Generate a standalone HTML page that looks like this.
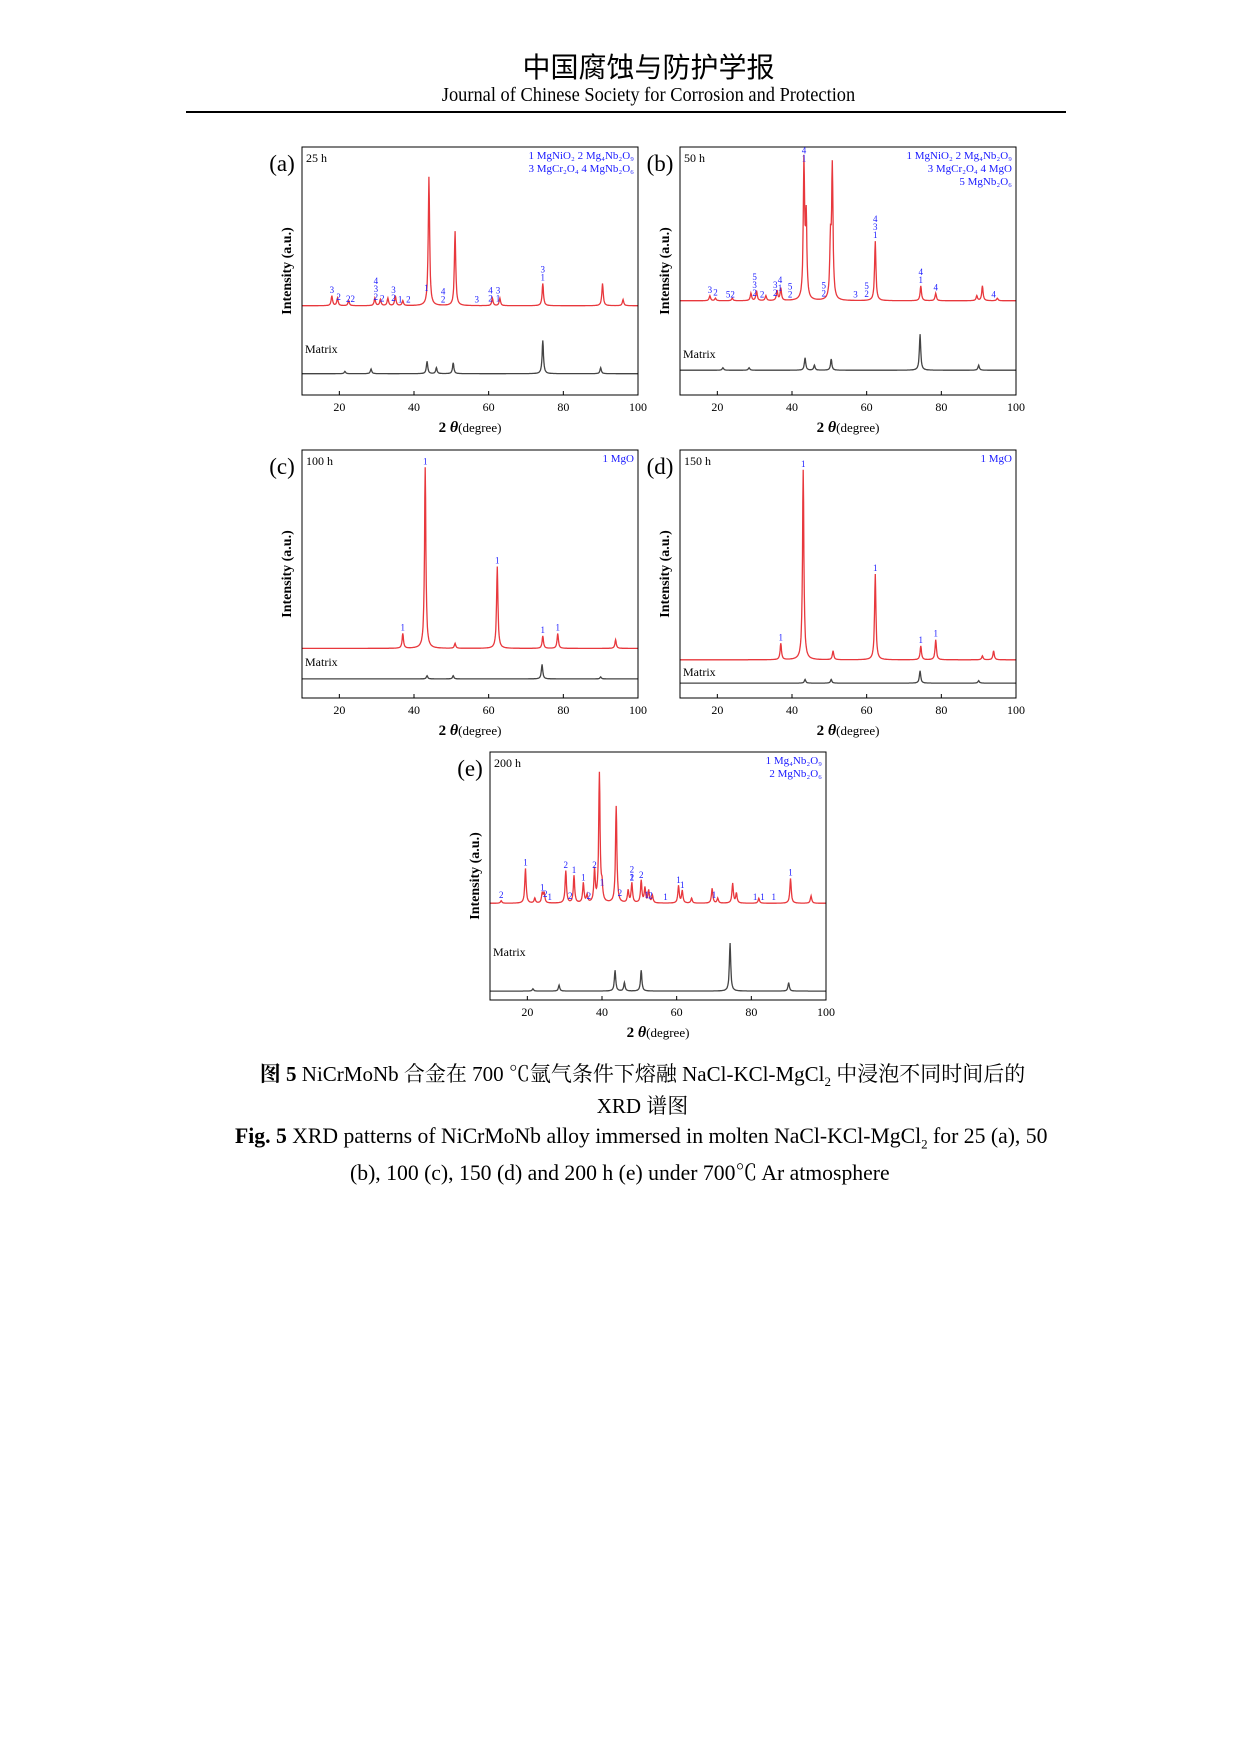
<!DOCTYPE html>
<html><head><meta charset="utf-8">
<style>
body{margin:0;background:#fff;width:1241px;height:1754px;position:relative;font-family:"Liberation Serif","Noto Serif CJK SC",serif;overflow:hidden}
.t{position:absolute;white-space:nowrap;color:#000}
</style></head><body>
<div class="t" style="left:0;width:1241px;text-align:center;top:46px;font-size:28px;font-family:'Noto Sans CJK SC',sans-serif;transform:translateX(28px)">中国腐蚀与防护学报</div>
<div class="t" style="left:0;width:1241px;text-align:center;top:84px;font-size:20px;transform:translateX(28px) scaleX(0.92)">Journal of Chinese Society for Corrosion and Protection</div>
<div style="position:absolute;left:186px;top:111px;width:880px;height:2px;background:#000"></div>
<svg id="fig" width="1241" height="1060" style="position:absolute;left:0;top:0" font-family="Liberation Serif, serif"></svg>
<div class="t" style="left:0;width:1241px;text-align:center;top:1058px;font-size:21px;transform:translateX(22px)"><b>图 5</b> NiCrMoNb 合金在 700 ℃氩气条件下熔融 NaCl-KCl-MgCl<sub style="font-size:13px">2</sub> 中浸泡不同时间后的</div>
<div class="t" style="left:0;width:1241px;text-align:center;top:1090px;font-size:21px;transform:translateX(22px)">XRD 谱图</div>
<div class="t" style="left:235px;top:1124px;font-size:21.7px"><b>Fig. 5</b> XRD patterns of NiCrMoNb alloy immersed in molten NaCl-KCl-MgCl<sub style="font-size:13px">2</sub> for 25 (a), 50</div>
<div class="t" style="left:350px;top:1156px;font-size:21.7px">(b), 100 (c), 150 (d) and 200 h (e) under 700℃ Ar atmosphere</div>
<script>
// panel a
const aRedBase=0.36, aRedPos=[18,19.5,22.5,29.5,31,33,35,37,44,51,61,63,74.5,90.5,96], aRedH=[0.40,0.39,0.38,0.39,0.385,0.39,0.40,0.38,0.88,0.66,0.39,0.39,0.45,0.45,0.385];
const aBlkBase=0.086, aBlkPos=[21.5,28.5,43.5,46,50.5,74.5,90], aBlkH=[0.095,0.105,0.136,0.11,0.13,0.22,0.11];
const aLabPos=[18,19.8,23,29.8,31.5,34.5,36.3,38.5,43.3,47.8,56.8,60.5,62.5,74.5], aLabTxt=["3","2","22","4|3|2","2","3|2","1","2","1","4|2","3","4|2","3|1","3|1"];
// panel b
const bRedBase=0.38, bRedPos=[18,19.5,24,29,30.5,33,36,37,43.2,43.8,50.3,50.8,62.3,74.5,78.5,89.5,91,95], bRedH=[0.4,0.39,0.39,0.41,0.42,0.4,0.42,0.43,0.93,0.7,0.6,0.91,0.62,0.44,0.41,0.4,0.44,0.39];
const bBlkBase=0.1, bBlkPos=[21.5,28.5,43.5,46,50.5,74.3,90], bBlkH=[0.11,0.11,0.15,0.12,0.145,0.245,0.12];
const bLabPos=[18,19.5,23.5,30,32,35.5,36.8,39.5,43.2,48.5,57,60,62.3,74.5,78.5,94], bLabTxt=["3","2","52","5|3|2","2","3|2","4|1","5|2","4|1","5|2","3","5|2","4|3|1","4|1","4","4"];
// panel c
const cRedBase=0.2, cRedPos=[37,43,51,62.3,74.5,78.5,94], cRedH=[0.26,0.93,0.22,0.53,0.25,0.26,0.235];
const cBlkBase=0.077, cBlkPos=[43.5,50.5,74.3,90], cBlkH=[0.09,0.09,0.136,0.085];
const cLabPos=[37,43,62.3,74.5,78.5], cLabTxt=["1","1","1","1","1"];
// panel d
const dRedBase=0.154, dRedPos=[37,43,51,62.3,74.5,78.5,91,94], dRedH=[0.22,0.92,0.19,0.5,0.21,0.235,0.17,0.19];
const dBlkBase=0.06, dBlkPos=[43.5,50.5,74.3,90], dBlkH=[0.075,0.075,0.11,0.07];
const dLabPos=[37,43,62.3,74.5,78.5], dLabTxt=["1","1","1","1","1"];
// panel e
const eRedBase=0.39, eRedPos=[13,19.5,22,24,24.5,30.3,32.5,35,36,38,39.3,40,43.8,47,48,50.5,51.5,52.5,53.5,60.5,61.5,64,69.5,71,75,76,82,90.5,96], eRedH=[0.4,0.53,0.41,0.43,0.43,0.52,0.5,0.47,0.42,0.52,0.91,0.45,0.78,0.44,0.47,0.48,0.45,0.44,0.42,0.46,0.44,0.41,0.45,0.41,0.47,0.43,0.41,0.49,0.42];
const eBlkBase=0.036, eBlkPos=[21.5,28.5,43.5,46,50.5,74.3,90], eBlkH=[0.045,0.06,0.12,0.07,0.12,0.23,0.07];
const eLabPos=[13,19.5,24,24.8,26,30.3,31.5,32.5,35,36.5,38,40,44.8,48,48,50.5,52,53,57,60.5,61.5,70,81,83,86,90.5], eLabTxt=["2","1","1","2","1","2","2","1","1","2","2","1","2","2|1","2","2","1","2","1","1","1","1","1","1","1","1"];
const xTicks=[20,40,60,80,100];

const NS="http://www.w3.org/2000/svg", svg=document.getElementById('fig');
function el(tag,attrs,parent){const e=document.createElementNS(NS,tag);for(const k in attrs)e.setAttribute(k,attrs[k]);(parent||svg).appendChild(e);return e;}
function panel(id,x0,y0,letter,time,legend,redBase,redPos,redH,blkBase,blkPos,blkH,labPos,labTxt,matrixY){
  const W=336,H=248;
  const g=el('g',{});
  
  
  const X=v=>x0+(v-10)/90*W, Y=f=>y0+H-f*H;
  function series(base,pos,h,color,name){
    let pts=[];
    for(let t=10;t<=100.001;t+=0.1){let v=base;for(let i=0;i<pos.length;i++){const d=(t-pos[i])/0.22;v+=(h[i]-base)/(1+d*d);}pts.push(X(t).toFixed(1)+','+Y(v).toFixed(1));}
    const p=el('polyline',{points:pts.join(' '),fill:'none',stroke:color,'stroke-width':1.3},g);
    
    
  }
  series(redBase,redPos,redH,'#e8383d','pattern-'+id);
  series(blkBase,blkPos,blkH,'#444','matrix-pattern-'+id);
  const box=el('rect',{x:x0,y:y0,width:W,height:H,fill:'none',stroke:'#000','stroke-width':1},g);
  
  
  xTicks.forEach(v=>{
    el('line',{x1:X(v),x2:X(v),y1:y0+H,y2:y0+H-4,stroke:'#000'},g);
    const t=el('text',{x:X(v),y:y0+H+16,'font-size':12,'text-anchor':'middle'},g);t.textContent=v;
    
    
  });
  const xl=el('text',{x:x0+W/2,y:y0+H+37,'font-size':13,'text-anchor':'middle'},g);
  xl.innerHTML='<tspan font-size="15" font-weight="bold">2 </tspan><tspan font-size="16" font-style="italic" font-weight="bold">θ</tspan><tspan>(degree)</tspan>';
  
  
  const yl=el('text',{x:0,y:0,'font-size':14,'font-weight':'bold','text-anchor':'middle',transform:`translate(${x0-11},${y0+H/2}) rotate(-90)`},g);
  yl.textContent='Intensity (a.u.)';
  
  
  const pl=el('text',{x:x0-20,y:y0+24,'font-size':23,'text-anchor':'middle'},g);pl.textContent=letter;
  
  
  const tl=el('text',{x:x0+4,y:y0+15,'font-size':12},g);tl.textContent=time;
  
  
  legend.forEach((line,i)=>{const t=el('text',{x:x0+W-4,y:y0+12+i*13,'font-size':11,fill:'#1a1aff','text-anchor':'end'},g);t.textContent=line;
    
    });
  const m=el('text',{x:x0+3,y:matrixY,'font-size':12},g);m.textContent='Matrix';
  
  
  labPos.forEach((p,i)=>{
    let top=redBase;for(let k=0;k<redPos.length;k++){const d=(p-redPos[k])/0.22;top=Math.max(top,redBase+(redH[k]-redBase)/(1+d*d));}
    const parts=labTxt[i].split('|');
    parts.forEach((s,j)=>{const t=el('text',{x:X(p),y:Y(top)-3-(parts.length-1-j)*8,'font-size':9,fill:'#1a1aff','text-anchor':'middle'},g);t.textContent=s;
      
      });
  });
}
panel('a',302,147,'(a)','25 h',['1 MgNiO₂  2 Mg₄Nb₂O₉','3 MgCr₂O₄  4 MgNb₂O₆'],aRedBase,aRedPos,aRedH,aBlkBase,aBlkPos,aBlkH,aLabPos,aLabTxt,353);
panel('b',680,147,'(b)','50 h',['1 MgNiO₂  2 Mg₄Nb₂O₉','3 MgCr₂O₄  4 MgO     ','5 MgNb₂O₆             '],bRedBase,bRedPos,bRedH,bBlkBase,bBlkPos,bBlkH,bLabPos,bLabTxt,358);
panel('c',302,450,'(c)','100 h',['1 MgO'],cRedBase,cRedPos,cRedH,cBlkBase,cBlkPos,cBlkH,cLabPos,cLabTxt,666);
panel('d',680,450,'(d)','150 h',['1 MgO'],dRedBase,dRedPos,dRedH,dBlkBase,dBlkPos,dBlkH,dLabPos,dLabTxt,676);
panel('e',490,752,'(e)','200 h',['1 Mg₄Nb₂O₉','2 MgNb₂O₆'],eRedBase,eRedPos,eRedH,eBlkBase,eBlkPos,eBlkH,eLabPos,eLabTxt,956);
</script>
</body></html>
